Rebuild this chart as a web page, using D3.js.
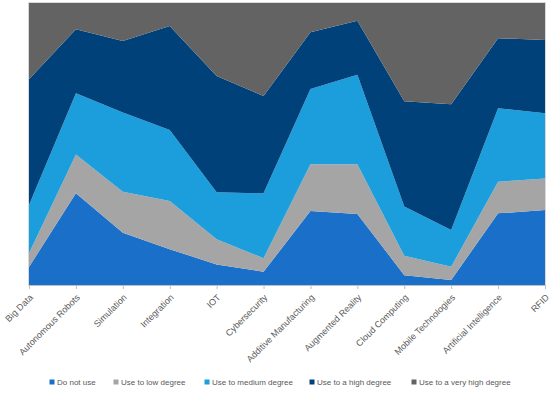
<!DOCTYPE html>
<html>
<head>
<meta charset="utf-8">
<script src="https://cdn.jsdelivr.net/npm/d3@7"></script>
<style>
  body { margin: 0; background: #fff; }
  svg { font-family: "Liberation Sans", Arial, sans-serif; }
</style>
</head>
<body>
<div id="chart"></div>
<script>
// categories along x
var categories = ["Big Data", "Autonomous Robots", "Simulation", "Integration", "IOT", "Cybersecurity",
  "Additive Manufacturing", "Augmented Reality", "Cloud Computing", "Mobile Technologies",
  "Artificial Intelligence", "RFID"];

var seriesNames = ["Do not use", "Use to low degree", "Use to medium degree", "Use to a high degree", "Use to a very high degree"];
var seriesColors = ["#1a6fc8", "#a5a5a5", "#1b9edb", "#004179", "#636363"];

// percent per category
var doNotUse     = [6.4, 32.5, 18.5, 12.7, 7.3, 4.7, 26.2, 25.2, 3.5, 1.8, 25.4, 26.6];
var lowDegree    = [4.9, 13.8, 14.6, 17.1, 8.9, 4.8, 16.6, 17.6, 6.9, 4.7, 11.2, 11.2];
var mediumDegree = [17.1, 21.7, 28.1, 25.2, 16.7, 23.0, 26.7, 31.8, 17.4, 13.0, 26.1, 23.1];
var highDegree   = [44.6, 22.7, 25.3, 36.8, 41.2, 34.5, 20.1, 19.1, 37.4, 44.6, 24.8, 26.0];
var veryHigh     = [27.0, 9.3, 13.5, 8.2, 25.9, 33.0, 10.4, 6.3, 34.8, 35.9, 12.5, 13.1];

var W = 550, H = 393
var margin = {top: 3, right: 5, bottom: 108, left: 29}
var width = W - margin.left - margin.right
var height = H - margin.top - margin.bottom

var rows = categories.map(function(c, i){
  var r = {cat: c}
  r[seriesNames[0]] = doNotUse[i]
  r[seriesNames[1]] = lowDegree[i]
  r[seriesNames[2]] = mediumDegree[i]
  r[seriesNames[3]] = highDegree[i]
  r[seriesNames[4]] = veryHigh[i]
  return r
})

var stack = d3.stack().keys(seriesNames).offset(d3.stackOffsetExpand)
var layers = stack(rows)

var x = d3.scalePoint().domain(categories).range([0, width])
var y = d3.scaleLinear().domain([0, 1]).range([height, 0])

var svg = d3.select("#chart").append("svg")
  .attr("width", W).attr("height", H)

var g = svg.append("g").attr("transform", "translate(" + margin.left + "," + margin.top + ")")

var area = d3.area()
  .x(function(d){ return x(d.data.cat) })
  .y0(function(d){ return y(d[0]) })
  .y1(function(d){ return y(d[1]) })

g.selectAll(".layer").data(layers).enter().append("path")
  .attr("class", "layer")
  .attr("d", area)
  .style("fill", function(d, i){ return seriesColors[i] })

// light frame round the plot
g.append("rect")
  .attr("x", -0.5).attr("y", -0.5)
  .attr("width", width + 1).attr("height", height + 1)
  .style("fill", "none").style("stroke", "#d9d9d9").style("stroke-width", "1px")

var xAxis = d3.axisBottom(x).tickSize(4).tickPadding(4)
var ax = g.append("g").attr("class", "xaxis")
  .attr("transform", "translate(0," + height + ")")
  .call(xAxis)
ax.select(".domain").style("stroke", "#bfbfbf")
ax.selectAll(".tick line").style("stroke", "#bfbfbf")
ax.selectAll(".tick text")
  .style("font-size", "9px")
  .style("fill", "#595959")
  .attr("text-anchor", "end")
  .attr("dy", null)
  .attr("y", 0)
  .attr("transform", "translate(4,13) rotate(-45)")

// legend
var legendX = [52, 116, 207, 312, 414]
var legend = svg.append("g").attr("class", "legend")
  .attr("transform", "translate(0,382)")
var item = legend.selectAll(".item").data(seriesNames).enter().append("g")
  .attr("class", "item")
  .attr("transform", function(d, i){ return "translate(" + legendX[i] + ",0)" })
item.append("rect")
  .attr("x", -2.5).attr("y", -2.5).attr("width", 5).attr("height", 5)
  .style("fill", function(d, i){ return seriesColors[i] })
item.append("text")
  .attr("x", 5).attr("y", 0)
  .attr("dy", "0.35em")
  .style("font-size", "8px")
  .style("fill", "#595959")
  .text(function(d){ return d })
</script>
</body>
</html>
